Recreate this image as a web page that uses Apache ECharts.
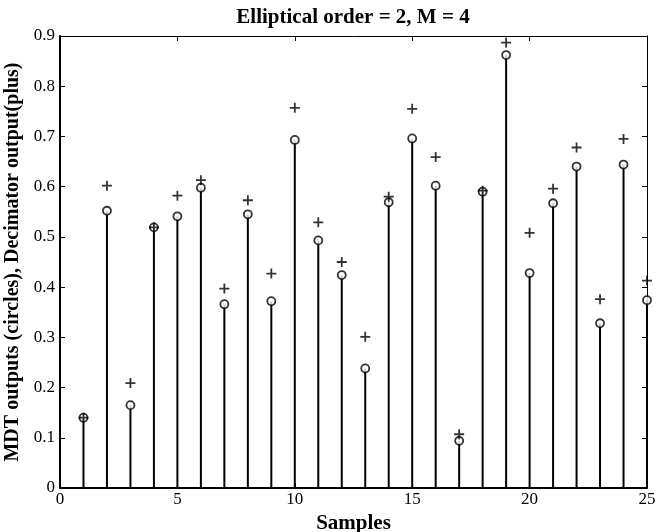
<!DOCTYPE html>
<html>
<head>
<meta charset="utf-8">
<script src="https://cdn.jsdelivr.net/npm/echarts@6/dist/echarts.min.js"></script>
<style>html,body{margin:0;padding:0;background:#fff}#c{width:660px;height:532px}</style>
</head>
<body>
<div id="c"></div>
<script>
var samples = [1,2,3,4,5,6,7,8,9,10,11,12,13,14,15,16,17,18,19,20,21,22,23,24,25];
var mdtOutputs = [0.140,0.552,0.165,0.519,0.541,0.598,0.366,0.545,0.372,0.693,0.493,0.424,0.238,0.569,0.696,0.602,0.094,0.590,0.862,0.428,0.567,0.640,0.328,0.644,0.374];
var decimatorOutputs = [0.140,0.602,0.209,0.519,0.582,0.613,0.397,0.573,0.427,0.757,0.529,0.450,0.301,0.580,0.755,0.659,0.107,0.592,0.887,0.508,0.596,0.678,0.376,0.695,0.413];

var font = '"Liberation Serif","DejaVu Serif",serif';
var mdtPairs = samples.map(function(s,i){return [s, mdtOutputs[i]];});
var decPairs = samples.map(function(s,i){return [s, decimatorOutputs[i]];});

var chart = echarts.init(document.getElementById('c'), null, {renderer:'canvas'});
chart.setOption({
  animation:false,
  backgroundColor:'#fff',
  title:{text:'Elliptical order = 2, M = 4', left:353, textAlign:'center', top:7, padding:0,
    textStyle:{fontFamily:font, fontWeight:'bold', fontSize:21, color:'#000'}},
  grid:{left:60, right:13, top:36, bottom:44, containLabel:false, outerBoundsMode:'none'},
  xAxis:[{
    type:'value', min:0, max:25, interval:5, position:'bottom',
    name:'Samples', nameLocation:'middle', nameGap:20,
    nameTextStyle:{fontFamily:font, fontWeight:'bold', fontSize:21, color:'#000', verticalAlign:'top'},
    axisLine:{show:true, onZero:false, lineStyle:{color:'#000', width:2}},
    axisTick:{show:true, inside:true, length:5, lineStyle:{color:'#000'}},
    axisLabel:{fontFamily:font, fontSize:17, color:'#000', margin:3},
    splitLine:{show:false}
  },{
    type:'value', min:0, max:25, interval:5, position:'top',
    axisLine:{show:true, onZero:false, lineStyle:{color:'#000', width:1}},
    axisTick:{show:true, inside:true, length:5, lineStyle:{color:'#000'}},
    axisLabel:{show:false}, splitLine:{show:false}
  }],
  yAxis:[{
    type:'value', min:0, max:0.9, interval:0.1, position:'left',
    name:'MDT outputs (circles), Decimator output(plus)', nameLocation:'middle', nameGap:32,
    nameTextStyle:{fontFamily:font, fontWeight:'bold', fontSize:20, color:'#000'},
    axisLine:{show:true, onZero:false, lineStyle:{color:'#000', width:2}},
    axisTick:{show:true, inside:true, length:5, lineStyle:{color:'#000'}},
    axisLabel:{fontFamily:font, fontSize:17, color:'#000', margin:5},
    splitLine:{show:false}
  },{
    type:'value', min:0, max:0.9, interval:0.1, position:'right',
    axisLine:{show:true, onZero:false, lineStyle:{color:'#000', width:1}},
    axisTick:{show:true, inside:true, length:5, lineStyle:{color:'#000'}},
    axisLabel:{show:false}, splitLine:{show:false}
  }],
  series:[{
    type:'custom', name:'stems', xAxisIndex:0, yAxisIndex:0,
    data: mdtPairs,
    renderItem:function(params, api){
      var p0 = api.coord([api.value(0), 0]);
      var p1 = api.coord([api.value(0), api.value(1)]);
      return {type:'line', shape:{x1:p0[0], y1:p0[1], x2:p1[0], y2:p1[1]},
        style:{stroke:'#000', lineWidth:2}};
    },
    z:2
  },{
    type:'scatter', name:'MDT', xAxisIndex:0, yAxisIndex:0,
    data: mdtPairs, symbol:'circle', symbolSize:8,
    itemStyle:{color:'#fff', borderColor:'#000', borderWidth:1.8},
    z:3
  },{
    type:'scatter', name:'Decimator', xAxisIndex:0, yAxisIndex:0,
    data: decPairs,
    symbol:'path://M4.1,0h1.8v4.1h4.1v1.8h-4.1v4.1h-1.8v-4.1h-4.1v-1.8h4.1z', symbolSize:10,
    itemStyle:{color:'#000'},
    z:4
  }]
});
</script>
</body>
</html>
